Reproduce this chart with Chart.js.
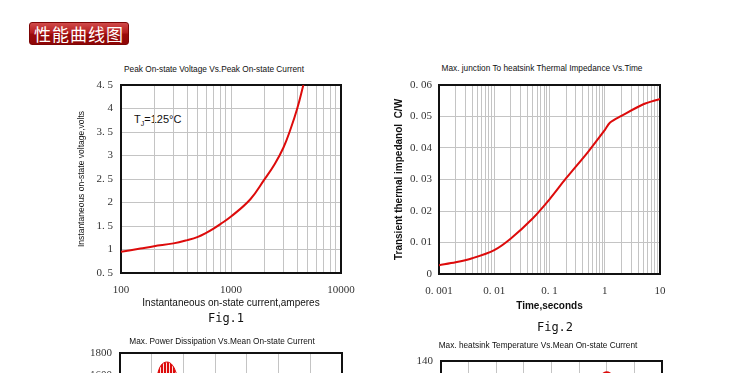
<!DOCTYPE html>
<html>
<head>
<meta charset="utf-8">
<script src="https://cdn.jsdelivr.net/npm/chart.js@4.4.1/dist/chart.umd.min.js"></script>
<style>
html, body { margin: 0; padding: 0; width: 750px; height: 373px; overflow: hidden; background: #fff; font-family: "Liberation Sans", Arial, sans-serif; }
canvas { position: absolute; }
.hdr { position: absolute; left: 29px; top: 22px; width: 98px; height: 21px; border: 1px solid #7c0505; border-radius: 3px;
  background: linear-gradient(#d04a4a, #b51e1e 45%, #9a0a0a 55%, #8e0606); color: #fff; font: 17px "Noto Sans CJK SC"; line-height: 21px; text-align: center; letter-spacing: 1px; }
.t { position: absolute; font-size: 9px; line-height: 11px; color: #111; white-space: nowrap; transform: translateX(-50%) scaleX(0.92); }
.fig { position: absolute; font: 12px "DejaVu Sans Mono"; line-height: 14px; color: #111; transform: translateX(-50%); }
.tj { position: absolute; left: 134px; top: 113px; font-size: 11px; color: #111; }
.tj sub { font-size: 7px; }
</style>
</head>
<body>
<div class="hdr">性能曲线图</div>

<div class="t" style="left:214px;top:64px">Peak On-state Voltage Vs.Peak On-state Current</div>
<div class="t" style="left:542px;top:63px">Max. junction To heatsink Thermal Impedance Vs.Time</div>
<div class="tj">T<sub>J</sub>=125°C</div>
<canvas id="fig1" width="307" height="243" style="left:60px;top:69px"></canvas>
<canvas id="fig2" width="311" height="243" style="left:375px;top:69px"></canvas>
<div class="fig" style="left:226px;top:311px">Fig.1</div>
<div class="fig" style="left:555px;top:320px">Fig.2</div>

<div class="t" style="left:222px;top:336px">Max. Power Dissipation Vs.Mean On-state Current</div>
<div class="t" style="left:538px;top:340px">Max. heatsink Temperature Vs.Mean On-state Current</div>
<canvas id="fig3" width="303" height="266" style="left:59px;top:337px"></canvas>
<canvas id="fig4" width="306" height="266" style="left:376px;top:345px"></canvas>

<script>
// Fig.1 - peak on-state voltage vs current
var current1 = [100, 150, 200, 300, 400, 500, 600, 700, 800, 1000, 1500, 2000, 2500, 3000, 3500, 4000, 4550];
var voltage1 = [0.95, 1.02, 1.07, 1.13, 1.20, 1.27, 1.36, 1.45, 1.54, 1.70, 2.07, 2.48, 2.82, 3.17, 3.58, 4.0, 4.5];
var xTicks1 = [100, 1000, 10000];
var xLabels1 = ["100", "1000", "10000"];
var yTicks1 = [0.5, 1, 1.5, 2, 2.5, 3, 3.5, 4, 4.5];
var yLabels1 = ["0. 5", "1", "1. 5", "2", "2. 5", "3", "3. 5", "4", "4. 5"];

// Fig.2 - transient thermal impedance vs time
var time2 = [0.001, 0.002, 0.004, 0.01, 0.02, 0.05, 0.1, 0.2, 0.5, 1, 1.25, 2, 5, 10];
var zth2 = [0.0028, 0.0037, 0.0050, 0.0076, 0.0113, 0.0177, 0.0237, 0.0304, 0.0388, 0.0457, 0.0481, 0.0502, 0.0539, 0.0556];
var xTicks2 = [0.001, 0.01, 0.1, 1, 10];
var xLabels2 = ["0. 001", "0. 01", "0. 1", "1", "10"];
var yTicks2 = [0, 0.01, 0.02, 0.03, 0.04, 0.05, 0.06];
var yLabels2 = ["0", "0. 01", "0. 02", "0. 03", "0. 04", "0. 05", "0. 06"];

// lower charts, only their top edge is on the page
var yTicks3 = [0, 200, 400, 600, 800, 1000, 1200, 1400, 1600, 1800];
var yLabels3 = ["0", "200", "400", "600", "800", "1000", "1200", "1400", "1600", "1800"];
var xTicks3 = [0, 1, 2, 3, 4, 5, 6, 7];
var waveX3 = [1.17, 1.3, 1.48, 1.65, 1.8];
var waveY3 = [1600, 1690, 1718, 1690, 1600];
var yTicks4 = [20, 40, 60, 80, 100, 120, 140];
var yLabels4 = ["20", "40", "60", "80", "100", "120", "140"];
var xTicks4 = [0, 1, 2, 3, 4, 5, 6, 7, 8];
var curveX4 = [5.6, 6.0, 6.4];
var curveY4 = [124, 131, 124];

var red = "#dd0b0b";
var gridColor = "#c4c4c4";
var tickFont = { family: "Liberation Serif", size: 11 };
var titleFont = { family: "Liberation Sans", size: 10 };

// red with thin white stripes, for the little half-wave sign
var stripe = document.createElement("canvas");
stripe.width = 3; stripe.height = 4;
var sctx = stripe.getContext("2d");
sctx.fillStyle = red; sctx.fillRect(0, 0, 2, 4);
sctx.fillStyle = "#fbe0e0"; sctx.fillRect(2, 0, 1, 4);
var stripeFill = sctx.createPattern(stripe, "repeat");

// all 1..9 lines of every decade for the log grids
function logGrid(decades) {
    var out = [];
    for (var i = 0; i < decades.length - 1; i++) {
        for (var k = 1; k < 10; k++) out.push(decades[i] * k);
    }
    out.push(decades[decades.length - 1]);
    return out;
}

function setTicks(vals) {
    return function(scale) {
        scale.ticks = vals.map(function(v) { return { value: v }; });
    };
}

function labelFor(vals, labels) {
    return function(value) {
        for (var i = 0; i < vals.length; i++) {
            if (Math.abs(vals[i] - value) < 1e-9) return labels[i];
        }
        return "";
    };
}

var boxPlugin = {
    id: "box",
    beforeDatasetsDraw: function(chart) {
        var a = chart.chartArea, ctx = chart.ctx;
        ctx.save();
        ctx.strokeStyle = "#111";
        ctx.lineWidth = 2;
        ctx.strokeRect(a.left, a.top, a.right - a.left, a.bottom - a.top);
        ctx.restore();
    }
};

function curve(xs, ys) {
    return xs.map(function(x, i) { return { x: x, y: ys[i] }; });
}

new Chart(document.getElementById("fig1"), {
    type: "scatter",
    data: {
        datasets: [{
            data: curve(current1, voltage1),
            showLine: true,
            borderColor: red,
            borderWidth: 2,
            pointRadius: 0,
            tension: 0.4
        }]
    },
    options: {
        responsive: false,
        animation: false,
        layout: { padding: { top: 16, right: 26, left: 0, bottom: 0 } },
        plugins: { legend: { display: false }, tooltip: { enabled: false } },
        scales: {
            x: {
                type: "logarithmic", min: 100, max: 10000,
                afterBuildTicks: setTicks(logGrid(xTicks1)),
                afterFit: function(s) { s.height = 39; },
                grid: { color: gridColor, drawTicks: false },
                border: { display: false },
                ticks: { autoSkip: false, maxRotation: 0, padding: 11, color: "#333", font: tickFont, callback: labelFor(xTicks1, xLabels1) },
                title: { display: true, text: "Instantaneous on-state current,amperes", color: "#111", font: titleFont, padding: { top: 0, bottom: 3 } }
            },
            y: {
                min: 0.5, max: 4.5,
                afterBuildTicks: setTicks(yTicks1),
                afterFit: function(s) { s.width = 61; },
                grid: { color: gridColor, drawTicks: false },
                border: { display: false },
                ticks: { padding: 8, color: "#333", font: tickFont, callback: labelFor(yTicks1, yLabels1) },
                title: { display: true, text: "Instantaneous on-state voltage,volts", color: "#111", font: { family: "Liberation Sans", size: 8.5 }, padding: { top: 17, bottom: 0 } }
            }
        }
    },
    plugins: [boxPlugin]
});

new Chart(document.getElementById("fig2"), {
    type: "scatter",
    data: {
        datasets: [{
            data: curve(time2, zth2),
            showLine: true,
            borderColor: red,
            borderWidth: 2,
            pointRadius: 0,
            tension: 0.3
        }]
    },
    options: {
        responsive: false,
        animation: false,
        layout: { padding: { top: 16, right: 26, left: 0, bottom: 0 } },
        plugins: { legend: { display: false }, tooltip: { enabled: false } },
        scales: {
            x: {
                type: "logarithmic", min: 0.001, max: 10,
                afterBuildTicks: setTicks(logGrid(xTicks2)),
                afterFit: function(s) { s.height = 38; },
                grid: { color: gridColor, drawTicks: false },
                border: { display: false },
                ticks: { autoSkip: false, maxRotation: 0, padding: 11, color: "#333", font: tickFont, callback: labelFor(xTicks2, xLabels2) },
                title: { display: true, text: "Time,seconds", color: "#111", font: { family: "Liberation Sans", size: 10, weight: "bold" }, padding: { top: 0, bottom: 0 } }
            },
            y: {
                min: 0, max: 0.06,
                afterBuildTicks: setTicks(yTicks2),
                afterFit: function(s) { s.width = 64; },
                grid: { color: gridColor, drawTicks: false },
                border: { display: false },
                ticks: { padding: 7, color: "#333", font: tickFont, callback: labelFor(yTicks2, yLabels2) },
                title: { display: true, text: "Transient thermal impedanol  C/W", color: "#111", font: { family: "Liberation Sans", size: 10, weight: "bold" }, padding: { top: 18, bottom: 0 } }
            }
        }
    },
    plugins: [boxPlugin]
});

new Chart(document.getElementById("fig3"), {
    type: "scatter",
    data: {
        datasets: [{
            data: curve(waveX3, waveY3),
            showLine: true,
            borderColor: red,
            backgroundColor: stripeFill,
            borderWidth: 1,
            pointRadius: 0,
            tension: 0.4,
            fill: { value: 1600 }
        }]
    },
    options: {
        responsive: false,
        animation: false,
        layout: { padding: { top: 16, right: 20, left: 0, bottom: 0 } },
        plugins: { legend: { display: false }, tooltip: { enabled: false } },
        scales: {
            x: {
                min: 0, max: 7,
                afterBuildTicks: setTicks(xTicks3),
                afterFit: function(s) { s.height = 52; },
                grid: { color: gridColor, drawTicks: false },
                border: { display: false },
                ticks: { display: false }
            },
            y: {
                min: 0, max: 1800,
                afterBuildTicks: setTicks(yTicks3),
                afterFit: function(s) { s.width = 61; },
                grid: { color: gridColor, drawTicks: false },
                border: { display: false },
                ticks: { padding: 8, color: "#333", font: tickFont, callback: labelFor(yTicks3, yLabels3) }
            }
        }
    },
    plugins: [boxPlugin]
});

new Chart(document.getElementById("fig4"), {
    type: "scatter",
    data: {
        datasets: [{
            data: curve(curveX4, curveY4),
            showLine: true,
            borderColor: red,
            borderWidth: 2,
            pointRadius: 0,
            tension: 0.4
        }]
    },
    options: {
        responsive: false,
        animation: false,
        layout: { padding: { top: 16, right: 20, left: 0, bottom: 0 } },
        plugins: { legend: { display: false }, tooltip: { enabled: false } },
        scales: {
            x: {
                min: 0, max: 8,
                afterBuildTicks: setTicks(xTicks4),
                afterFit: function(s) { s.height = 100; },
                grid: { color: gridColor, drawTicks: false },
                border: { display: false },
                ticks: { display: false }
            },
            y: {
                min: 20, max: 140,
                afterBuildTicks: setTicks(yTicks4),
                afterFit: function(s) { s.width = 65; },
                grid: { color: gridColor, drawTicks: false },
                border: { display: false },
                ticks: { padding: 8, color: "#333", font: tickFont, callback: labelFor(yTicks4, yLabels4) }
            }
        }
    },
    plugins: [boxPlugin]
});
</script>
</body>
</html>
